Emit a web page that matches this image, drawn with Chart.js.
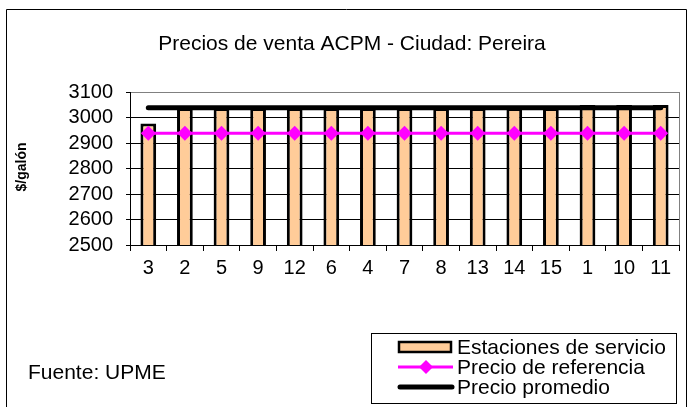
<!DOCTYPE html>
<html>
<head>
<meta charset="utf-8">
<script src="https://cdn.jsdelivr.net/npm/chart.js@4.4.1/dist/chart.umd.min.js"></script>
<style>
html,body{margin:0;padding:0;background:#fff;}
#wrap{position:relative;width:688px;height:407px;}
</style>
</head>
<body>
<div id="wrap"><canvas id="c" width="688" height="407"></canvas></div>
<script>
const titleText = "Precios de venta ACPM - Ciudad: Pereira";
const yAxisTitle = "$/galón";
const sourceText = "Fuente: UPME";
const categories = ["3","2","5","9","12","6","4","7","8","13","14","15","1","10","11"];
const stationPrices = [2976,3037,3037,3037,3037,3037,3037,3037,3037,3037,3037,3037,3049,3049,3049];
const referencePrice = [2938,2938,2938,2938,2938,2938,2938,2938,2938,2938,2938,2938,2938,2938,2938];
const averagePrice = [3038,3038,3038,3038,3038,3038,3038,3038,3038,3038,3038,3038,3038,3038,3038];
const seriesNames = ["Estaciones de servicio","Precio de referencia","Precio promedio"];
const yTicks = [2500,2600,2700,2800,2900,3000,3100];

const FONT = "Arial, 'Liberation Sans', sans-serif";
const BAR_FILL = "#FFCC99";
const PINK = "#FF00FF";

const decor = {
  id: 'decor',
  beforeDraw(chart) {
    const ctx = chart.ctx;
    ctx.save();
    ctx.fillStyle = '#fff';
    ctx.fillRect(0, 0, chart.width, chart.height);
    ctx.restore();
  },
  afterDraw(chart) {
    const ctx = chart.ctx;
    const ca = chart.chartArea;
    ctx.save();
    // outer frame
    ctx.strokeStyle = '#000';
    ctx.lineWidth = 1;
    ctx.beginPath();
    ctx.moveTo(6.5, 407);
    ctx.lineTo(6.5, 9.5);
    ctx.lineTo(686.5, 9.5);
    ctx.lineTo(686.5, 407);
    ctx.stroke();
    // plot area right border
    ctx.strokeStyle = '#808080';
    ctx.beginPath();
    ctx.moveTo(Math.round(ca.right) + 0.5, ca.top);
    ctx.lineTo(Math.round(ca.right) + 0.5, ca.bottom);
    ctx.stroke();
    // title
    ctx.fillStyle = '#000';
    ctx.font = "21px " + FONT;
    ctx.textAlign = 'center';
    ctx.textBaseline = 'middle';
    ctx.fillText(titleText, 352, 44);
    // y axis title
    ctx.save();
    ctx.translate(22, 167);
    ctx.rotate(-Math.PI / 2);
    ctx.font = "bold 14px " + FONT;
    ctx.fillText(yAxisTitle, 0, 0);
    ctx.restore();
    // source
    ctx.textAlign = 'left';
    ctx.font = "21px " + FONT;
    ctx.fillText(sourceText, 28, 373);
    // legend box
    ctx.strokeStyle = '#000';
    ctx.lineWidth = 1;
    ctx.strokeRect(371.5, 333.5, 305, 70);
    const ys = [347, 367, 387];
    // bar symbol
    ctx.fillStyle = BAR_FILL;
    ctx.fillRect(399, 342, 52, 10);
    ctx.lineWidth = 2.5;
    ctx.strokeRect(399, 342, 52, 10);
    // ref line symbol
    ctx.strokeStyle = PINK;
    ctx.lineWidth = 3;
    ctx.beginPath();
    ctx.moveTo(398, ys[1]); ctx.lineTo(453, ys[1]);
    ctx.stroke();
    ctx.fillStyle = PINK;
    ctx.beginPath();
    ctx.moveTo(426, ys[1] - 7); ctx.lineTo(433, ys[1]); ctx.lineTo(426, ys[1] + 7); ctx.lineTo(419, ys[1]);
    ctx.closePath(); ctx.fill();
    // avg line symbol
    ctx.strokeStyle = '#000';
    ctx.lineWidth = 5;
    ctx.lineCap = 'round';
    ctx.beginPath();
    ctx.moveTo(400, ys[2]); ctx.lineTo(452, ys[2]);
    ctx.stroke();
    // legend text
    ctx.fillStyle = '#000';
    ctx.font = "21px " + FONT;
    ctx.textAlign = 'left';
    ctx.textBaseline = 'middle';
    for (let i = 0; i < seriesNames.length; i++) {
      ctx.fillText(seriesNames[i], 457, ys[i] + 1);
    }
    ctx.restore();
  }
};

new Chart(document.getElementById('c'), {
  data: {
    labels: categories,
    datasets: [
      {
        type: 'line',
        label: seriesNames[1],
        data: referencePrice,
        borderColor: PINK,
        backgroundColor: PINK,
        borderWidth: 3,
        pointStyle: 'rectRot',
        pointRadius: 7.5,
        pointBorderWidth: 0,
        pointBackgroundColor: PINK,
        order: 1
      },
      {
        type: 'line',
        label: seriesNames[2],
        data: averagePrice,
        borderColor: '#000',
        borderWidth: 5,
        borderCapStyle: 'round',
        pointRadius: 0,
        order: 2
      },
      {
        type: 'bar',
        label: seriesNames[0],
        data: stationPrices,
        backgroundColor: BAR_FILL,
        borderColor: '#000',
        borderWidth: 3,
        barPercentage: 0.43,
        categoryPercentage: 1,
        order: 3
      }
    ]
  },
  options: {
    responsive: false,
    devicePixelRatio: 1,
    animation: false,
    layout: { padding: { left: 0, right: 9, top: 92, bottom: 122 } },
    plugins: {
      legend: { display: false },
      title: { display: false },
      tooltip: { enabled: false }
    },
    scales: {
      x: {
        type: 'category',
        offset: true,
        grid: {
          offset: true,
          drawOnChartArea: false,
          drawTicks: true,
          tickLength: 6,
          color: '#000'
        },
        border: { display: true, color: '#000', width: 1 },
        ticks: {
          color: '#000',
          font: { family: FONT, size: 20 },
          padding: 5,
          maxRotation: 0,
          autoSkip: false
        },
        afterFit(scale) { scale.height = 40; }
      },
      y: {
        min: 2500,
        max: 3100,
        afterBuildTicks(scale) { scale.ticks = yTicks.map(v => ({ value: v })); },
        grid: {
          color: (c) => (c.tick && c.tick.value === 3100) ? '#808080' : '#000',
          lineWidth: 1,
          tickLength: 4,
          tickColor: '#000'
        },
        border: { display: true, color: '#000', width: 1 },
        ticks: {
          color: '#000',
          font: { family: FONT, size: 20 },
          padding: 13,
          autoSkip: false,
          callback: (v) => String(v)
        },
        afterFit(scale) { scale.width = 130; }
      }
    }
  },
  plugins: [decor]
});
</script>
</body>
</html>
